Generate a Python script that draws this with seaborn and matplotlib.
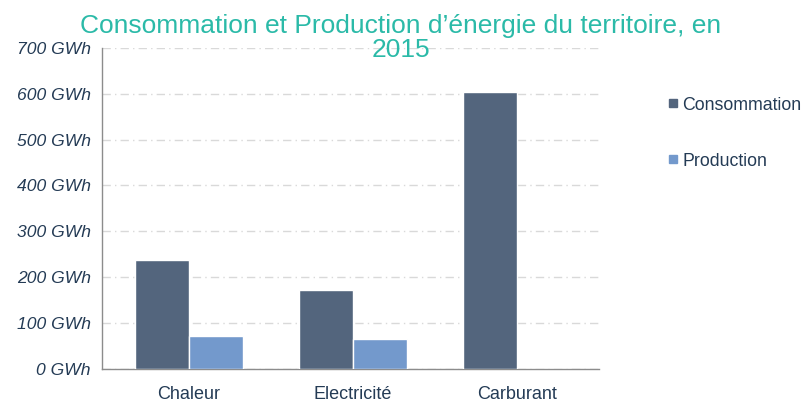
import pandas as pd
import numpy as np
import seaborn as sns
import matplotlib.pyplot as plt
from matplotlib.ticker import FixedLocator, FuncFormatter

# Data (GWh)
categories = ["Chaleur", "Electricité", "Carburant"]
consommation = [237, 172, 603]
production = [72, 65, 0]
series = ["Consommation", "Production"]
colors = ["#53657d", "#7399cc"]

df = pd.DataFrame({
    "Type": categories * 2,
    "Série": [series[0]] * 3 + [series[1]] * 3,
    "GWh": consommation + production,
})

sns.set_style("white")
plt.rcParams["font.family"] = ["Liberation Sans", "DejaVu Sans"]

text_col = "#243b55"
title_col = "#2bbaa8"
fig = plt.figure(figsize=(8.09, 4.03), dpi=100)
ax = fig.add_axes([0.126, 0.0844, 0.614, 0.797])

sns.barplot(
    data=df, x="Type", y="GWh", hue="Série", order=categories,
    hue_order=series, palette=colors, width=0.66, gap=0.0,
    edgecolor="white", linewidth=1.0, saturation=1, ax=ax, zorder=3,
)

ax.set_ylim(0, 700)
ax.set_xlim(-0.53, 2.5)
ax.yaxis.set_major_locator(FixedLocator(np.arange(0, 701, 100)))
ax.yaxis.set_major_formatter(FuncFormatter(lambda v, p: f"{int(v)} GWh"))
ax.grid(axis="y", color="#d9d9d9", linestyle=(0, (6, 3, 1, 3)), linewidth=1, zorder=0)
ax.set_axisbelow(True)

for lab in ax.get_yticklabels():
    lab.set_fontstyle("italic")
ax.tick_params(axis="y", length=0, pad=8, labelsize=12.6, labelcolor=text_col)
ax.tick_params(axis="x", length=0, pad=12, labelsize=13, labelcolor=text_col)
ax.xaxis.set_minor_locator(FixedLocator([-0.53, 0.5, 1.5, 2.5]))
ax.tick_params(axis="x", which="minor", length=5, width=1, color="#888888", direction="out")

for s in ["top", "right"]:
    ax.spines[s].set_visible(False)
for s in ["left", "bottom"]:
    ax.spines[s].set_color("#8c8c8c")
    ax.spines[s].set_linewidth(1)

ax.set_xlabel("")
ax.set_ylabel("")

ax.legend_.remove()
handles = [plt.Line2D([], [], marker="s", linestyle="", markersize=6, color=c) for c in colors]
fig.legend(handles, series, loc="upper left", bbox_to_anchor=(0.805, 0.8),
           frameon=False, fontsize=12.8, labelspacing=2.2, handletextpad=0.25,
           handlelength=0.6, labelcolor=text_col)

# title drawn as two lines, like the wrapped original
fig.text(0.495, 1 - 33 / 403, "Consommation et Production d’énergie du territoire, en",
         ha="center", va="baseline", fontsize=19, color=title_col)
fig.text(0.495, 1 - 57 / 403, "2015",
         ha="center", va="baseline", fontsize=19, color=title_col)

fig.savefig("out.png", dpi=100)
